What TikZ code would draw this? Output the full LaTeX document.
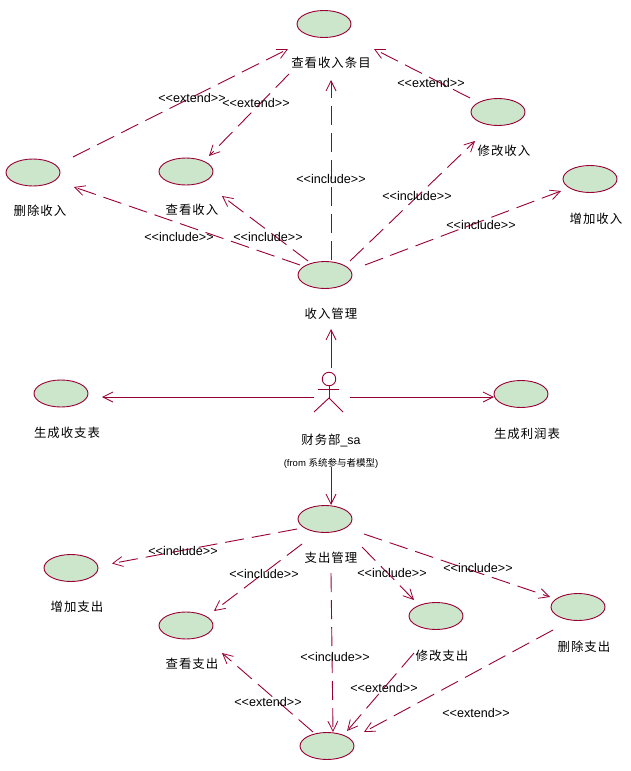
\documentclass[tikz,border=0pt]{standalone}
\usepackage{fontspec}
\usetikzlibrary{arrows.meta,shapes.geometric}
\newfontfamily\lat{Liberation Sans}
\newfontfamily\cjk[LetterSpace=8]{Noto Sans CJK SC}
\newfontfamily\cjksmall{Noto Sans CJK SC}
\definecolor{umlline}{RGB}{153,0,51}
\definecolor{umlfill}{RGB}{204,230,204}
\tikzset{
  usecase/.style={ellipse,draw=umlline,fill=umlfill,line width=0.9pt,minimum width=54pt,minimum height=27pt,inner sep=0pt},
  uclabel/.style={inner sep=0pt,font=\fontsize{12.4}{14}\selectfont\cjk,text=black},
  stereo/.style={inner sep=0pt,font=\fontsize{12.6}{14}\selectfont\lat,text=black},
  dep/.style={draw=umlline,line width=0.9pt,dash pattern=on 19pt off 8pt,-{Straight Barb[length=10pt,width=10pt,line width=0.8pt]}},
  assoc/.style={draw=umlline,line width=0.9pt,-{Straight Barb[length=10pt,width=10pt,line width=0.8pt]}},
  actorline/.style={draw=umlline,line width=0.9pt}
}
\begin{document}
\begin{tikzpicture}[x=1pt,y=-1pt]
\useasboundingbox (0,0) rectangle (630,771);
% use cases
\node[usecase] (view) at (324,24) {};
\node[usecase] (mod) at (498,112) {};
\node[usecase] (add) at (590,179) {};
\node[usecase] (del) at (33,172.5) {};
\node[usecase] (look) at (186,171.5) {};
\node[usecase] (inc) at (325,275) {};
\node[usecase] (rep) at (61,393.5) {};
\node[usecase] (prof) at (521,394) {};
\node[usecase] (exp) at (325,519) {};
\node[usecase] (eadd) at (71,568) {};
\node[usecase] (elook) at (186,625.5) {};
\node[usecase] (emod) at (436,616) {};
\node[usecase] (edel) at (578,607) {};
\node[usecase] (eview) at (327,746) {};
% labels
\node[uclabel] (lview) at (331,63) {查看收入条目};
\node[uclabel] (lmod) at (504,151) {修改收入};
\node[uclabel] (ladd) at (596,219) {增加收入};
\node[uclabel] (ldel) at (40,211) {删除收入};
\node[uclabel] (llook) at (192,210) {查看收入};
\node[uclabel] (linc) at (331,314) {收入管理};
\node[uclabel] (lrep) at (67,433) {生成收支表};
\node[uclabel] (lprof) at (527,434) {生成利润表};
\node[uclabel] (lexp) at (331,558) {支出管理};
\node[uclabel] (leadd) at (77,607) {增加支出};
\node[uclabel] (lelook) at (192,664) {查看支出};
\node[uclabel] (lemod) at (442,656) {修改支出};
\node[uclabel] (ledel) at (584,647) {删除支出};
\node[uclabel] (lactor) at (331,440) {财务部\lat\_sa};
\node[inner sep=0pt,font=\fontsize{9.5}{10}\selectfont\lat] (lfrom) at (331,463) {(from {\cjksmall 系统参与者模型})};
% actor
\node[circle,draw=umlline,line width=0.9pt,minimum size=13.5pt,inner sep=0pt] (head) at (329,379) {};
\coordinate (hip) at (329,398);
\coordinate (armL) at (318,389);
\coordinate (armR) at (339,389);
\coordinate (legL) at (314,412);
\coordinate (legR) at (343,412);
\draw[actorline] (head.south) -- (hip);
\draw[actorline] (armL) -- (armR);
\draw[actorline] (legL) -- (hip) -- (legR);
% connector ends
\coordinate (a1) at (73,157);   \coordinate (b1) at (288,49);
\coordinate (a2) at (289,74);   \coordinate (b2) at (209,156);
\coordinate (a3) at (470,98);   \coordinate (b3) at (374,49);
\coordinate (a4) at (331,260);  \coordinate (b4) at (331,80);
\coordinate (a5) at (350,261);  \coordinate (b5) at (475,141);
\coordinate (a6) at (365,265);  \coordinate (b6) at (561,191);
\coordinate (a7) at (308,261);  \coordinate (b7) at (222,196);
\coordinate (a8) at (300,265);  \coordinate (b8) at (74,187);
\coordinate (a9) at (331,368);  \coordinate (b9) at (331,329);
\coordinate (a10) at (314,397); \coordinate (b10) at (102,397);
\coordinate (a11) at (350,397); \coordinate (b11) at (494,397);
\coordinate (a12) at (331,467); \coordinate (b12) at (331,505);
\coordinate (a13) at (297,529); \coordinate (b13) at (112,563.5);
\coordinate (a14) at (302,544); \coordinate (b14) at (214,611);
\coordinate (a15) at (362,547); \coordinate (b15) at (414,600);
\coordinate (a16) at (364,534); \coordinate (b16) at (550,597);
\coordinate (a17) at (331,573); \coordinate (b17) at (333,732);
\coordinate (a18) at (553,630); \coordinate (b18) at (364,732);
\coordinate (a19) at (414,653); \coordinate (b19) at (347,731);
\coordinate (a20) at (313,732); \coordinate (b20) at (222,653);
% connectors
\draw[dep] (a1) -- (b1);
\draw[dep] (a2) -- (b2);
\draw[dep] (a3) -- (b3);
\draw[dep] (a4) -- (b4);
\draw[dep] (a5) -- (b5);
\draw[dep] (a6) -- (b6);
\draw[dep] (a7) -- (b7);
\draw[dep] (a8) -- (b8);
\draw[assoc] (a9) -- (b9);
\draw[assoc] (a10) -- (b10);
\draw[assoc] (a11) -- (b11);
\draw[assoc] (a12) -- (b12);
\draw[dep] (a13) -- (b13);
\draw[dep] (a14) -- (b14);
\draw[dep] (a15) -- (b15);
\draw[dep] (a16) -- (b16);
\draw[dep] (a17) -- (b17);
\draw[dep] (a18) -- (b18);
\draw[dep] (a19) -- (b19);
\draw[dep] (a20) -- (b20);
% stereotypes
\node[stereo] (s1) at (192,98) {<<extend>>};
\node[stereo] (s2) at (256,103) {<<extend>>};
\node[stereo] (s3) at (431,83) {<<extend>>};
\node[stereo] (s4) at (179,237) {<<include>>};
\node[stereo] (s5) at (268,237) {<<include>>};
\node[stereo] (s6) at (331,179) {<<include>>};
\node[stereo] (s7) at (417,196) {<<include>>};
\node[stereo] (s8) at (481,225) {<<include>>};
\node[stereo] (s9) at (183,551) {<<include>>};
\node[stereo] (s10) at (264,574) {<<include>>};
\node[stereo] (s11) at (392,573) {<<include>>};
\node[stereo] (s12) at (478,568) {<<include>>};
\node[stereo] (s13) at (335,657) {<<include>>};
\node[stereo] (s14) at (268,702) {<<extend>>};
\node[stereo] (s15) at (384,688) {<<extend>>};
\node[stereo] (s16) at (476,713) {<<extend>>};
\end{tikzpicture}
\end{document}
